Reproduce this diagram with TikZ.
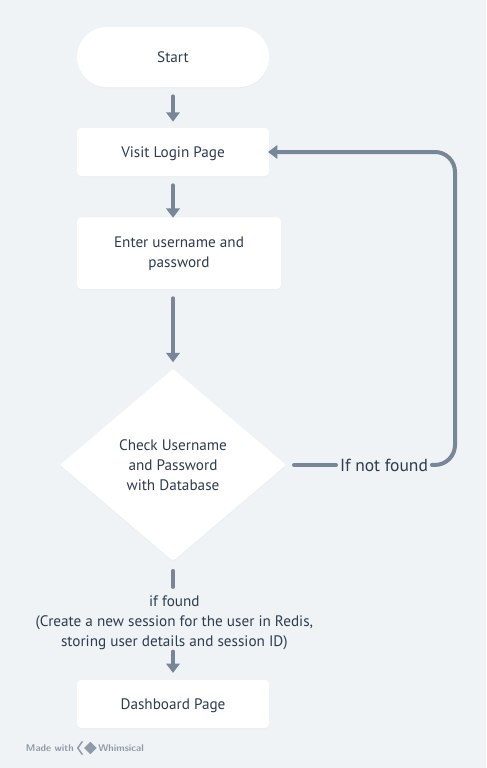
\documentclass[tikz,border=0pt]{standalone}
\usepackage{fontspec}
\setmainfont{PT Sans}
\usepackage{xcolor}
\usetikzlibrary{arrows.meta,positioning,shapes.geometric,calc,shadows}
\definecolor{canvas}{HTML}{EFF3F6}
\definecolor{wire}{HTML}{788797}
\definecolor{ink}{HTML}{2E3C4E}
\definecolor{badge}{HTML}{8F9BA8}
\tikzset{
  base/.style={fill=white, align=center, text=ink, outer sep=0pt, font=\fontsize{11.4}{15}\selectfont,
    drop shadow={shadow xshift=0pt, shadow yshift=-1pt, opacity=.03}},
  term/.style={base, rounded corners=22.4pt, minimum width=144pt, minimum height=45pt},
  proc/.style={base, rounded corners=3pt, minimum width=144pt, minimum height=36pt, text height=8pt, text depth=0pt},
  wide/.style={base, rounded corners=3pt, minimum width=153pt, minimum height=53.6pt, text depth=1pt},
  decision/.style={base, diamond, rounded corners=1.5pt, inner sep=0pt, minimum width=169.5pt, minimum height=144pt},
  note/.style={align=center, text=ink, inner sep=0pt, outer sep=0pt},
  arrow/.style={-{Triangle[width=10pt,length=7pt]}, wire, line width=3pt, line cap=round},
  wireline/.style={wire, line width=3pt, line cap=round},
  brandtext/.style={inner sep=0pt, outer sep=0pt, text=badge, font=\sffamily\bfseries\fontsize{7.3}{9}\selectfont}
}

\begin{document}
\begin{tikzpicture}[x=1pt,y=1pt]
    \useasboundingbox[fill=canvas] (0,0) rectangle (364.5,-576);
    \node[term] (start) at (129.75,-42.75) {Start};
    \node[proc, below=30.75pt of start] (login) {Visit Login Page};
    \node[wide, below right=31.1pt and 0pt of login.south west] (enter) {Enter username and\\ password};
    \node[decision, below=60pt of enter, xshift=-4.5pt] (check) {Check Username\\ and Password\\ with Database};
    \node[note, font=\fontsize{11.4}{15}\selectfont, below=26.25pt of check, xshift=1pt] (found) {if found\\ (Create a new session for the user in Redis,\\ storing user details and session ID)};
    \node[proc, below=89.25pt of check] (dash) {Dashboard Page};
    \node[note, font=\fontsize{13.1}{15}\selectfont, right=40.5pt of check] (miss) {If not found};

    \draw[arrow, shorten <=7pt, shorten >=4.75pt] (start) -- (login);
    \draw[arrow, shorten <=7pt, shorten >=-0.25pt] (login) -- (login |- enter.north);
    \draw[arrow, shorten <=7pt, shorten >=5pt] (check |- enter.south) -- (check);

    % found branch
    \draw[wireline, shorten <=7.5pt, shorten >=6.75pt] (check.south) -- (check |- found.north);
    \draw[arrow, shorten <=1.15pt, shorten >=5.25pt] (dash |- found.south) -- (dash);

    % not found loop
    \coordinate (turn) at (341.25,-114);
    \draw[wireline, shorten <=6pt, shorten >=3pt] (check.east) -- (miss.west);
    \draw[arrow, rounded corners=15pt, shorten <=3pt, shorten >=-0.75pt] (miss.east) -| (turn) -- (login.east);

    % badge
    \node[brandtext, anchor=west] (made) at (19.5,-561) {Made with};
    \node[diamond, fill=badge, inner sep=0pt, minimum width=9.5pt, minimum height=9.5pt, right=7.5pt of made] (logo) {};
    \node[brandtext, right=1pt of logo] (brand) {Whimsical};
    \draw[badge, line width=1.1pt] ($(logo.west)+(-1pt,5pt)$) -- ($(logo.west)+(-4.5pt,0pt)$) -- ($(logo.west)+(-1pt,-5pt)$);
\end{tikzpicture}
\end{document}
